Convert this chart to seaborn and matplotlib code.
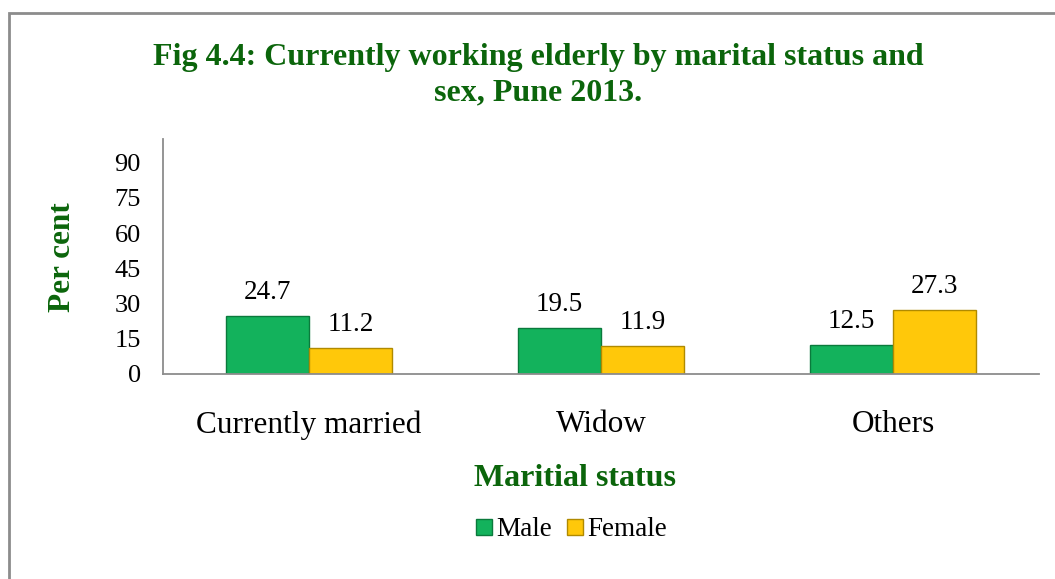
import matplotlib
matplotlib.use("Agg")
import matplotlib.pyplot as plt
import numpy as np
import pandas as pd
import seaborn as sns
from matplotlib.patches import Rectangle

# data
categories = ["Currently married", "Widow", "Others"]
male = [24.7, 19.5, 12.5]
female = [11.2, 11.9, 27.3]
series = ["Male", "Female"]
y_ticks = [0, 15, 30, 45, 60, 75, 90]

GREEN_TXT = "#0B650B"
AXIS_GREY = "#8C8C8C"
palette = {"Male": "#13B25C", "Female": "#FFC80A"}
edges = {"Male": "#0A7A3C", "Female": "#B08A00"}

sns.set_theme(style="white")
plt.rcParams["font.family"] = ["Liberation Serif", "DejaVu Serif"]
plt.rcParams["text.color"] = "black"

df = pd.DataFrame({
    "status": categories * 2,
    "sex": ["Male"] * len(categories) + ["Female"] * len(categories),
    "value": male + female,
})

fig = plt.figure(figsize=(10.55, 5.79), dpi=100)
ax = fig.add_axes([163 / 1055, 1 - 374 / 579, (1039 - 163) / 1055, (374 - 139) / 579])

sns.barplot(data=df, x="status", y="value", hue="sex", order=categories,
            hue_order=series, palette=palette, width=0.57, ax=ax,
            legend=False, saturation=1, errorbar=None)

for cont, name in zip(ax.containers, series):
    for bar in cont:
        bar.set_edgecolor(edges[name])
        bar.set_linewidth(1.0)
    ax.bar_label(cont, fmt="%.1f", padding=8, fontsize=19.5, color="black")

ax.set_xlim(-0.5, len(categories) - 0.5)
ax.set_ylim(0, 100)
ax.set_yticks(y_ticks)
ax.tick_params(axis="y", labelsize=19, labelcolor="black", length=6, width=1,
               color=AXIS_GREY, direction="out", pad=10)
ax.tick_params(axis="x", which="major", labelsize=22.5, labelcolor="black",
               length=0, pad=26)
ax.set_xticks(np.arange(-0.5, len(categories)), minor=True)
ax.tick_params(axis="x", which="minor", length=7, width=1, color=AXIS_GREY,
               direction="out")

for side in ["top", "right"]:
    ax.spines[side].set_visible(False)
for side in ["left", "bottom"]:
    ax.spines[side].set_color(AXIS_GREY)
    ax.spines[side].set_linewidth(1.3)

ax.set_xlabel("")
ax.set_ylabel("")
fig.text(575 / 1055, 1 - 479 / 579, "Maritial status", ha="center", va="center",
         fontsize=23, fontweight="bold", color=GREEN_TXT)
fig.text(62 / 1055, 1 - 257 / 579, "Per cent", ha="center", va="center",
         rotation=90, fontsize=22.5, fontweight="bold", color=GREEN_TXT)
fig.text(538 / 1055, 1 - 75 / 579,
         "Fig 4.4: Currently working elderly by marital status and\nsex, Pune 2013.",
         ha="center", va="center", fontsize=23, fontweight="bold",
         color=GREEN_TXT, linespacing=1.3)

handles = [plt.Line2D([], [], marker="s", linestyle="", markersize=11,
                      markerfacecolor=palette[s], markeredgecolor=edges[s])
           for s in series]
fig.legend(handles, series, loc="center", bbox_to_anchor=(571 / 1055, 1 - 530 / 579),
           ncol=2, frameon=False, fontsize=19.5, handletextpad=0.1,
           columnspacing=0.5, handlelength=0.7, labelcolor="black")

fig.add_artist(Rectangle((9 / 1055, -0.05), 1.1, 1.05 - 13 / 579,
                         transform=fig.transFigure, fill=False,
                         edgecolor=AXIS_GREY, linewidth=2))

fig.savefig("out.png", dpi=100)
